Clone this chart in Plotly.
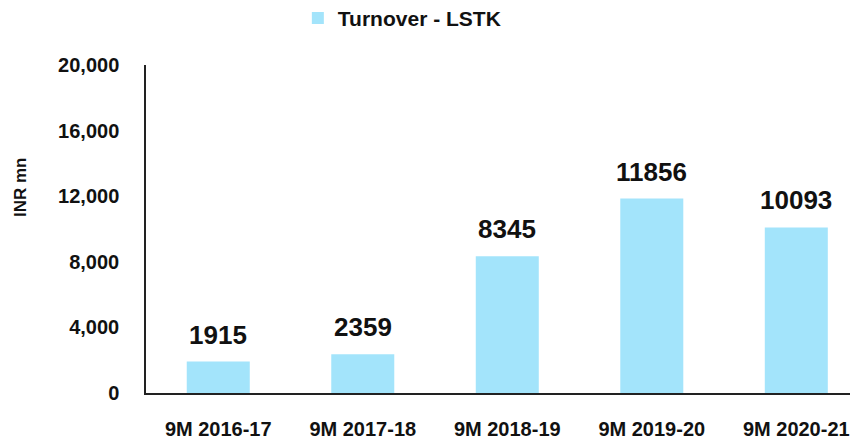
import plotly.graph_objects as go

categories = ["9M 2016-17", "9M 2017-18", "9M 2018-19", "9M 2019-20", "9M 2020-21"]
turnover = [1915, 2359, 8345, 11856, 10093]
y_ticks = [0, 4000, 8000, 12000, 16000, 20000]
y_tick_labels = ["0", "4,000", "8,000", "12,000", "16,000", "20,000"]

FONT = "Liberation Sans, Arial, sans-serif"
INK = "#111111"

# The page has a default 8px body margin, so the figure is sized to fit the 858x440 window.
W, H = 850, 432

fig = go.Figure()
fig.add_trace(go.Bar(
    x=categories, y=turnover, name="Turnover - LSTK",
    marker=dict(color="#A3E4FB", line=dict(width=0)),
    width=0.436,
))

for c, v in zip(categories, turnover):
    fig.add_annotation(x=c, y=v, text=str(v), showarrow=False, yanchor="bottom",
                       yshift=10, font=dict(family=FONT, size=26, color=INK, weight="bold"))

fig.add_annotation(xref="paper", yref="paper", x=-0.177, y=0.628, text="INR mn",
                   textangle=-90, showarrow=False, xanchor="center", yanchor="middle",
                   font=dict(family=FONT, size=17, color=INK, weight="bold"))

fig.update_layout(
    width=W, height=H,
    margin=dict(l=138, r=0, t=57, b=47, autoexpand=False),
    paper_bgcolor="white", plot_bgcolor="white",
    font=dict(family=FONT, color=INK),
    showlegend=True,
    legend=dict(orientation="h", x=0.341, xanchor="left", y=1.142, yanchor="middle",
                xref="container", yref="paper",
                font=dict(family=FONT, size=21, color=INK, weight="bold"),
                itemwidth=30),
    xaxis=dict(range=[-0.5, 4.427], showline=True, linecolor="#222222", linewidth=1.5,
               ticks="", tickfont=dict(family=FONT, size=20, color=INK, weight="bold"),
               ticklabelstandoff=17, showgrid=False, automargin=False),
    yaxis=dict(range=[0, 20000], tickvals=y_ticks, ticktext=y_tick_labels,
               showline=True, linecolor="#222222", linewidth=1.5, ticks="",
               tickfont=dict(family=FONT, size=20, color=INK, weight="bold"),
               ticklabelstandoff=21, showgrid=False, zeroline=False, automargin=False),
)

fig.write_html("out.html")
